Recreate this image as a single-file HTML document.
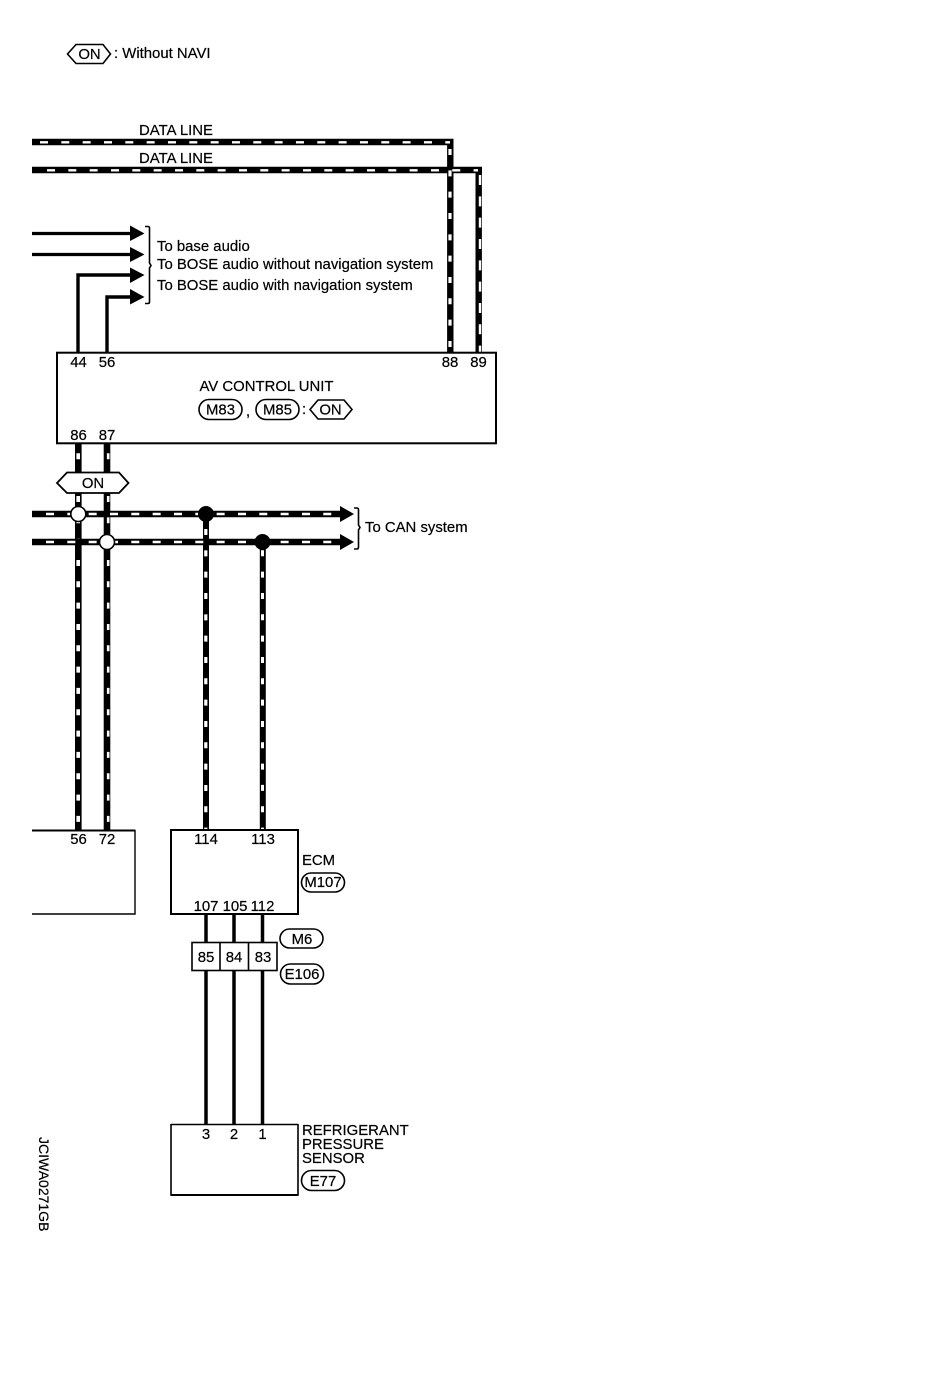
<!DOCTYPE html>
<html><head><meta charset="utf-8"><style>
html,body{margin:0;padding:0;background:#fff}
svg{display:block}
text{font-family:"Liberation Sans",sans-serif;font-size:14.9px;fill:#000;stroke:#000;stroke-width:.2}
.c{text-anchor:middle}
</style></head><body>
<svg width="936" height="1376" viewBox="0 0 936 1376" xmlns="http://www.w3.org/2000/svg">
<rect width="936" height="1376" fill="#fff"/>
<g fill="none" stroke="#000">
<!-- legend -->
<path d="M67.5 54 L76 44.5 H103 L110.5 54 L103 63.5 H76 Z" stroke-width="1.6" fill="#fff"/>
<!-- data lines -->
<path d="M32 142 H453.500 M450.300 139 V352" stroke-width="6.400"/>
<path d="M32 170 H482 M478.700 167 V352" stroke-width="6.400"/>
<path d="M40 142.3 H450" stroke="#fff" stroke-width="2.4" stroke-dasharray="8 13.33"/>
<path d="M47 170.3 H478" stroke="#fff" stroke-width="2.4" stroke-dasharray="8 13.33"/>
<path d="M450 147 V352" stroke="#fff" stroke-width="3.2" stroke-dasharray="6 15.33" stroke-dashoffset="-2"/>
<path d="M480 175 V352" stroke="#fff" stroke-width="2.4" stroke-dasharray="10 11.33"/>
<!-- audio arrows -->
<path d="M32 233.5 H132 M32 254.5 H132" stroke-width="3.2"/>
<path d="M78 352 V275 H132 M107 352 V297 H132" stroke-width="3.4"/>
<!-- brace -->
<path d="M145 226.5 H148 Q149.5 226.5 149.5 228 V263 L151 265.5 L149.5 268 V302 Q149.5 303.5 148 303.5 H145" stroke-width="1.6"/>
<!-- AV unit -->
<rect x="57" y="352.7" width="439" height="90.6" stroke-width="2"/>
<rect x="199" y="399.5" width="43" height="20" rx="10" stroke-width="1.6"/>
<rect x="256" y="399.5" width="43" height="20" rx="10" stroke-width="1.6"/>
<path d="M310 409.5 L318 400 H344 L352 409.5 L344 419 H318 Z" stroke-width="1.6"/>
<!-- vertical CAN branches -->
<path d="M78.3 444 V830 M107 444 V830" stroke-width="6.6"/>
<path d="M206 514 V830 M262.8 542 V830" stroke-width="6"/>
<path d="M78.2 447 V830" stroke="#fff" stroke-width="3.6" stroke-dasharray="6 15.33" stroke-dashoffset="-6.3"/>
<path d="M108.2 447 V830" stroke="#fff" stroke-width="2.6" stroke-dasharray="6 15.33" stroke-dashoffset="-6.3"/>
<path d="M205.8 522 V830" stroke="#fff" stroke-width="3.2" stroke-dasharray="6 15.33" stroke-dashoffset="-7"/>
<path d="M262.5 550 V830" stroke="#fff" stroke-width="3" stroke-dasharray="6 15.33" stroke-dashoffset="-0.3"/>
<!-- CAN horizontal -->
<path d="M32 514 H342 M32 542 H342" stroke-width="6.400"/>
<path d="M46 514 H336" stroke="#fff" stroke-width="2.6" stroke-dasharray="8 13.33"/>
<path d="M46 542 H336" stroke="#fff" stroke-width="2.6" stroke-dasharray="8 13.33"/>
<path d="M354 508 H357 Q358.5 508 358.5 510 V525 L360 527.5 L358.5 530 V547 Q358.5 549 357 549 H354" stroke-width="1.6"/>
<!-- ON hexagon -->
<path d="M57 483 L67 472.5 H119 L128.5 483 L119 493 H67 Z" stroke-width="1.8" fill="#fff"/>
<!-- left box -->
<path d="M32 830.5 H135 V914 H32" stroke-width="1.4"/>
<path d="M32 830.5 H135" stroke-width="2"/>
<!-- ECM -->
<rect x="171" y="830" width="127" height="84" stroke-width="2"/>
<rect x="301.500" y="873" width="43" height="19" rx="9.500" stroke-width="1.6"/>
<!-- lower wires -->
<path d="M206 915 V1124 M234 915 V1124 M262.500 915 V1124" stroke-width="3.500"/>
<rect x="192" y="942.500" width="85" height="28" fill="#fff" stroke-width="1.6"/>
<path d="M220 942.500 V970.500 M248.500 942.500 V970.500" stroke-width="1.600"/>
<rect x="280" y="929" width="43" height="19" rx="9.500" stroke-width="1.600"/>
<rect x="280.500" y="964" width="43" height="20" rx="10" stroke-width="1.600"/>
<!-- sensor -->
<path d="M171 1124.500 H298 M171 1124 V1195 H298 V1124" stroke-width="1.600"/>
<path d="M171 1195 H298" stroke-width="2"/>
<rect x="301.500" y="1170.500" width="43" height="20" rx="10" stroke-width="1.600"/>
</g>
<!-- arrowheads -->
<g fill="#000">
<path d="M130 225.500 L144.500 233.500 L130 241 Z"/>
<path d="M130 247 L144.500 254.500 L130 262 Z"/>
<path d="M130 267.500 L144.500 275 L130 283 Z"/>
<path d="M130 289 L144.500 297 L130 304.500 Z"/>
<path d="M340 506 L354 514 L340 522 Z"/>
<path d="M340 534 L354 542 L340 550 Z"/>
<circle cx="206" cy="514" r="8"/>
<circle cx="262.500" cy="542" r="8"/>
</g>
<g fill="#fff" stroke="#000" stroke-width="1.600">
<circle cx="78.300" cy="514" r="7.500"/>
<circle cx="107" cy="542" r="7.500"/>
</g>
<!-- text -->
<text class="c" x="89.500" y="59">ON</text>
<text x="114" y="58">: Without NAVI</text>
<text x="139" y="135">DATA LINE</text>
<text x="139" y="163">DATA LINE</text>
<text x="157" y="251">To base audio</text>
<text x="157" y="269">To BOSE audio without navigation system</text>
<text x="157" y="290">To BOSE audio with navigation system</text>
<text class="c" x="78.500" y="367">44</text>
<text class="c" x="107" y="367">56</text>
<text class="c" x="450" y="367">88</text>
<text class="c" x="478.500" y="367">89</text>
<text class="c" x="266.500" y="391">AV CONTROL UNIT</text>
<text class="c" x="220.500" y="414.500">M83</text>
<text x="246" y="416">,</text>
<text class="c" x="277.500" y="414.500">M85</text>
<text x="302" y="414">:</text>
<text class="c" x="330.500" y="414.500">ON</text>
<text class="c" x="78.500" y="440">86</text>
<text class="c" x="107" y="440">87</text>
<text class="c" x="93" y="488">ON</text>
<text x="365" y="532">To CAN system</text>
<text class="c" x="78.500" y="844">56</text>
<text class="c" x="107" y="844">72</text>
<text class="c" x="206" y="844">114</text>
<text class="c" x="263" y="844">113</text>
<text x="302" y="865">ECM</text>
<text class="c" x="323" y="887">M107</text>
<text class="c" x="206" y="911">107</text>
<text class="c" x="235" y="911">105</text>
<text class="c" x="262.500" y="911">112</text>
<text class="c" x="206" y="962">85</text>
<text class="c" x="234" y="962">84</text>
<text class="c" x="263" y="962">83</text>
<text class="c" x="302" y="944">M6</text>
<text class="c" x="302" y="979">E106</text>
<text class="c" x="206" y="1139">3</text>
<text class="c" x="234" y="1139">2</text>
<text class="c" x="262.500" y="1139">1</text>
<text x="302" y="1135">REFRIGERANT</text>
<text x="302" y="1149">PRESSURE</text>
<text x="302" y="1163">SENSOR</text>
<text class="c" x="323" y="1186">E77</text>
<text transform="translate(39 1137) rotate(90)" style="font-size:14px">JCIWA0271GB</text>
</svg>
</body></html>
